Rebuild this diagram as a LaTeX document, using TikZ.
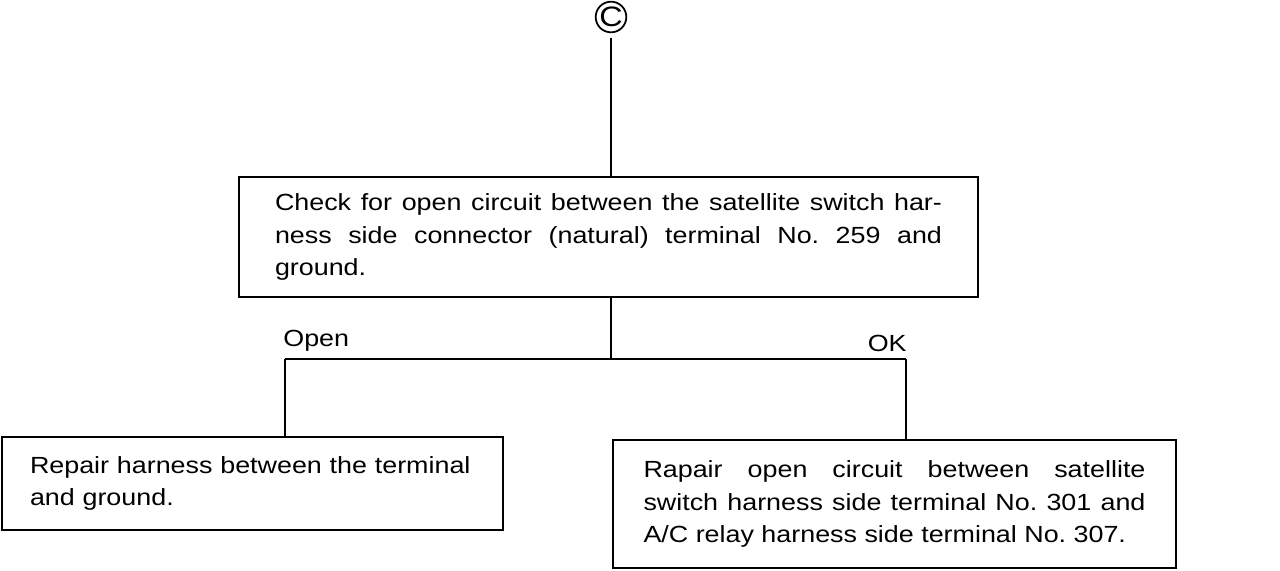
\documentclass[tikz,border=0pt]{standalone}
\usepackage{fontspec}
\setmainfont{Liberation Sans}[FakeStretch=1.15]
\usetikzlibrary{positioning}
\frenchspacing

\begin{document}
\begin{tikzpicture}[
    every node/.style={font=\fontsize{13.3}{18.6}\selectfont},
    stepbox/.style={draw, rectangle, line width=1.2pt, align=justify, inner ysep=0pt},
    wire/.style={line width=1.1pt},
    tag/.style={inner sep=0pt}
]
    \useasboundingbox (0,0) rectangle (25.6,-11.4);

    % Entry marker
    \node[draw, circle, line width=1pt, minimum size=0.6cm, inner sep=0pt] (C) at (12.22,-0.34) {\fontsize{16}{16}\selectfont C};

    % Check box
    \node[stepbox, below=2.86cm of C, xshift=-0.05cm, text width=13.34cm, inner xsep=0.72cm, minimum height=2.4cm] (check)
        {Check for open circuit between the satellite switch har-\linebreak
         ness side connector (natural) terminal No. 259 and\linebreak
         ground.};

    % Branch points
    \coordinate (split) at (12.22,-7.18);
    \coordinate (openend) at (5.70,-7.18);
    \coordinate (okend) at (18.12,-7.18);

    % Result boxes
    \node[stepbox, text width=8.9cm, inner xsep=0.56cm, minimum height=1.86cm, align=left] (repairgnd) at (5.05,-9.67)
        {Repair harness between the terminal\\ and ground.};
    \node[stepbox, text width=10.04cm, inner xsep=0.61cm, minimum height=2.56cm] (repairopen) at (17.89,-10.08)
        {Rapair open circuit between satellite\linebreak
         switch harness side terminal No. 301 and\linebreak
         A/C relay harness side terminal No. 307.};

    % Branch labels
    \node[tag, above right=0.15cm and -0.04cm of openend] (openlbl) {Open};
    \node[tag, above left=0.14cm and -0.02cm of okend] (oklbl) {OK};

    % Connectors
    \draw[wire, shorten <=0.1cm] (C.south) -- (C |- check.north);
    \draw[wire] (split |- check.south) -- (split);
    \draw[wire] (openend) -- (okend);
    \draw[wire] (openend) -- (openend |- repairgnd.north);
    \draw[wire] (okend) -- (okend |- repairopen.north);
\end{tikzpicture}
\end{document}
